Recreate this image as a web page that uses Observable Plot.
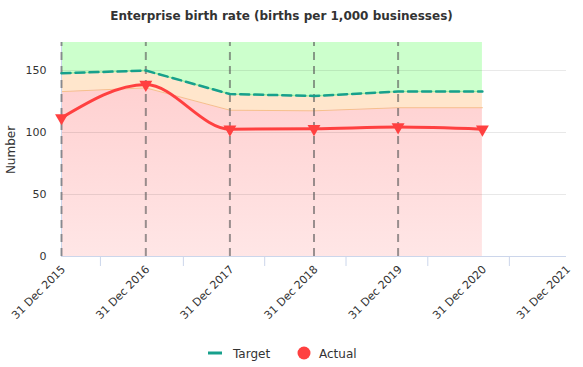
<!DOCTYPE html>
<html>
<head>
<meta charset="utf-8">
<script src="https://cdn.jsdelivr.net/npm/d3@7"></script>
<script src="https://cdn.jsdelivr.net/npm/@observablehq/plot@0.6"></script>
<style>
  body { margin: 0; background: #fff; font-family: "DejaVu Sans", sans-serif; }
  #wrap { position: relative; width: 583px; height: 367px; overflow: hidden; }
  #title { position: absolute; left: -10px; top: 9px; width: 583px; text-align: center; font-size: 12px; font-weight: bold; color: #333; }
  #ylab { position: absolute; left: 11px; top: 150px; transform: translate(-50%, -50%) rotate(-90deg); font-size: 12px; color: #333; white-space: nowrap; }
  #legend { position: absolute; left: 0; top: 342px; width: 583px; height: 22px; }
  #chart { position: absolute; left: 0; top: 0; }
</style>
</head>
<body>
<div id="wrap">
  <div id="chart"></div>
  <div id="title">Enterprise birth rate (births per 1,000 businesses)</div>
  <div id="ylab">Number</div>
  <svg id="legend" width="583" height="22"></svg>
</div>
<script>
// ---- data ----
const dates = ["2015-12-31", "2016-12-31", "2017-12-31", "2018-12-31", "2019-12-31", "2020-12-31"];
const target = [147.8, 150, 131, 129.5, 133, 133];
const threshold = [133, 136, 118, 117.5, 120, 120];
const actual = [111.8, 138.7, 102.7, 103, 104.4, 102.7];
const xLabelDates = ["2015-12-31", "2016-12-31", "2017-12-31", "2018-12-31", "2019-12-31", "2020-12-31", "2021-12-31"];
const xTickDates = ["2016-06-17", "2017-06-12", "2018-05-31", "2019-05-19", "2020-05-08", "2021-04-27"];
const dashedDates = ["2015-12-31", "2016-12-31", "2017-12-31", "2018-12-31", "2019-12-31"];
const yTicks = [0, 50, 100, 150];
const yTop = 172.6;

const parse = d3.utcParse("%Y-%m-%d");
const fmt = d3.utcFormat("%-d %b %Y");
const rows = dates.map((d, i) => ({date: parse(d), target: target[i], threshold: threshold[i], actual: actual[i], top: yTop}));

const axisColor = "#ccd6eb";
const font = "'DejaVu Sans', sans-serif";

const plot = Plot.plot({
  width: 583,
  height: 367,
  marginTop: 42,
  marginBottom: 111,
  marginLeft: 61,
  marginRight: 17,
  style: {fontFamily: font, fontSize: "11px", color: "#333", background: "transparent", overflow: "visible"},
  x: {type: "utc", domain: [parse(xLabelDates[0]), parse(xLabelDates[xLabelDates.length - 1])]},
  y: {type: "linear", domain: [0, yTop]},
  marks: [
    () => {
      const ns = "http://www.w3.org/2000/svg";
      const defs = document.createElementNS(ns, "defs");
      defs.innerHTML = `<linearGradient id="redgrad" x1="0" y1="0" x2="0" y2="1">
        <stop offset="0%" stop-color="#ffd1d1"/><stop offset="100%" stop-color="#ffe6e6"/></linearGradient>`;
      return defs;
    },
    Plot.areaY(rows, {x: "date", y1: "target", y2: "top", fill: "#ccffcc"}),
    Plot.areaY(rows, {x: "date", y1: "threshold", y2: "target", fill: "#ffe6cc"}),
    Plot.areaY(rows, {x: "date", y1: 0, y2: "threshold", fill: "url(#redgrad)"}),
    Plot.lineY(rows, {x: "date", y: "threshold", stroke: "#f6c08c", strokeWidth: 1}),
    Plot.lineY(rows, {x: "date", y: "target", stroke: "#a6f0a0", strokeWidth: 1.5}),
    Plot.gridY(yTicks.filter(t => t > 0), {stroke: "#000", strokeOpacity: 0.09}),
    Plot.ruleY([0], {stroke: axisColor, strokeWidth: 1}),
    Plot.ruleX([parse(xLabelDates[0])], {stroke: axisColor, strokeWidth: 1}),
    Plot.ruleX(xTickDates.map(parse), {y1: 0, y2: 0, insetBottom: -10, stroke: axisColor, strokeWidth: 1}),
    Plot.ruleX(dashedDates.map(parse), {y1: 0, y2: yTop, stroke: "#555", strokeOpacity: 0.6, strokeWidth: 2, strokeDasharray: "8,6"}),
    Plot.lineY(rows, {x: "date", y: "target", stroke: "#17a08c", strokeWidth: 2.5, strokeDasharray: "9,5"}),
    Plot.lineY(rows, {x: "date", y: "actual", stroke: "#ff4040", strokeWidth: 3, curve: "monotone-x"}),
    Plot.dot(rows, {x: "date", y: "actual", symbol: "triangle", rotate: 180, r: 4.8, fill: "#ff4040", stroke: "none"}),
    Plot.axisY({ticks: yTicks, tickSize: 0, tickPadding: 15, label: null, fontSize: 11, fontFamily: font}),
    Plot.axisX({ticks: xLabelDates.map(parse), tickFormat: fmt, tickSize: 0, tickPadding: 11, tickRotate: -45, label: null, fontSize: 11, fontFamily: font, dx: 2})
  ]
});
document.getElementById("chart").appendChild(plot);

// legend
const leg = d3.select("#legend");
leg.append("line").attr("x1", 208).attr("x2", 222).attr("y1", 11).attr("y2", 11).attr("stroke", "#17a08c").attr("stroke-width", 3);
leg.append("text").attr("x", 233).attr("y", 15.5).attr("font-size", 12).attr("fill", "#333").attr("font-family", font).text("Target");
leg.append("circle").attr("cx", 304).attr("cy", 11).attr("r", 6.5).attr("fill", "#ff4040");
leg.append("text").attr("x", 319).attr("y", 15.5).attr("font-size", 12).attr("fill", "#333").attr("font-family", font).text("Actual");
</script>
</body>
</html>
